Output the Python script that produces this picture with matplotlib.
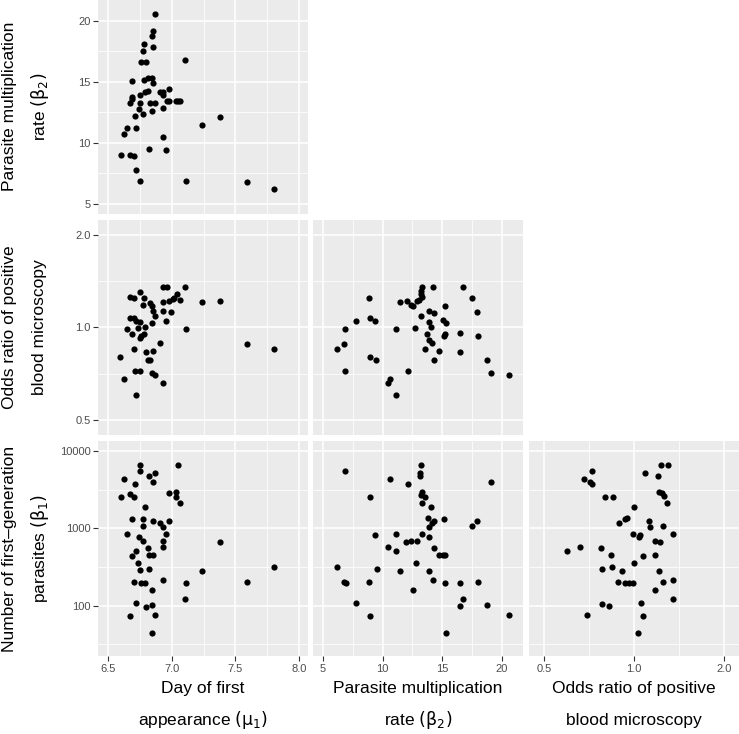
import matplotlib.pyplot as plt
from matplotlib.ticker import FixedLocator, FixedFormatter, NullFormatter

# --- data (one pair of arrays per panel) ---
# Day of first appearance (mu1) vs parasite multiplication rate (beta2)
day_rate_x = [6.87, 6.85, 6.84, 6.78, 6.85, 6.77, 6.76, 6.80, 7.10, 6.69, 6.78, 6.81, 6.84,
              6.85, 6.81, 6.79, 6.75, 6.69, 6.69, 6.67, 6.75, 6.83, 6.87, 6.91, 6.93, 6.93,
              6.98, 6.96, 6.98, 7.03, 7.05, 7.06, 6.93, 6.74, 6.84, 6.77, 6.71, 6.65, 6.62,
              6.72, 7.24, 7.38, 6.93, 6.82, 6.95, 6.60, 6.67, 6.70, 6.72, 6.75, 7.11, 7.59, 7.80]
day_rate_y = [20.6, 19.2, 18.8, 18.1, 17.9, 17.5, 16.6, 16.6, 16.8, 15.1, 15.2, 15.3, 15.3,
              14.9, 14.3, 14.2, 13.9, 13.8, 13.6, 13.3, 13.3, 13.3, 13.3, 14.2, 14.2, 13.9,
              14.4, 13.4, 13.4, 13.4, 13.4, 13.4, 12.9, 12.8, 12.6, 12.4, 12.2, 11.2, 10.7,
              11.2, 11.5, 12.1, 10.5, 9.5, 9.4, 9.0, 9.0, 8.9, 7.8, 6.9, 6.9, 6.8, 6.2]

# Day of first appearance vs odds ratio of positive blood microscopy
day_odds_x = [6.93, 6.96, 7.10, 6.67, 6.70, 6.75, 6.78, 7.04, 7.02, 7.01, 7.06, 6.98, 6.93,
              7.24, 7.38, 6.83, 6.77, 6.84, 6.85, 6.93, 6.87, 6.99, 6.95, 6.67, 6.70, 6.72,
              6.75, 6.79, 6.73, 6.65, 6.84, 7.11, 6.69, 6.75, 6.76, 6.78, 6.91, 6.70, 6.59,
              6.80, 6.85, 6.81, 6.83, 6.71, 6.75, 6.84, 6.87, 6.62, 6.93, 6.72, 7.59, 7.80]
day_odds_y = [1.35, 1.35, 1.35, 1.26, 1.25, 1.30, 1.25, 1.28, 1.25, 1.24, 1.23, 1.22, 1.21,
              1.21, 1.22, 1.20, 1.18, 1.17, 1.13, 1.13, 1.09, 1.12, 1.05, 1.07, 1.07, 1.05,
              1.04, 1.00, 0.995, 0.99, 1.03, 0.99, 0.95, 0.92, 0.94, 0.95, 0.89, 0.85, 0.80,
              0.83, 0.84, 0.78, 0.78, 0.72, 0.72, 0.71, 0.70, 0.68, 0.66, 0.60, 0.88, 0.85]

# Parasite multiplication rate vs odds ratio
rate_odds_x = [13.35, 14.27, 16.79, 13.24, 13.24, 13.35, 13.10, 12.88, 12.07, 11.48, 12.35,
               12.54, 8.83, 17.51, 13.94, 14.36, 17.91, 15.25, 13.24, 13.88, 14.08, 15.08,
               15.34, 7.79, 8.94, 9.39, 6.84, 11.09, 12.74, 13.74, 15.22, 15.20, 16.51, 18.04,
               13.94, 14.13, 6.76, 6.17, 13.60, 14.78, 16.51, 8.97, 9.47, 14.36, 18.74, 6.84,
               12.12, 19.13, 20.59, 10.59, 10.45, 11.15]
rate_odds_y = [1.35, 1.35, 1.35, 1.31, 1.28, 1.26, 1.23, 1.22, 1.22, 1.21, 1.18,
               1.17, 1.25, 1.25, 1.13, 1.11, 1.12, 1.17, 1.09, 1.04, 1.00, 1.06,
               1.03, 1.05, 1.07, 1.05, 0.99, 0.99, 0.995, 0.95, 0.95, 0.935, 0.96, 0.935,
               0.91, 0.89, 0.88, 0.85, 0.85, 0.84, 0.83, 0.80, 0.78, 0.78, 0.78, 0.72,
               0.72, 0.71, 0.70, 0.68, 0.66, 0.60]

# Day of first appearance vs number of first-generation parasites (beta1)
day_first_x = [6.75, 7.05, 6.75, 6.87, 6.82, 6.62, 6.85, 6.71, 6.98, 7.03, 7.03, 7.06, 6.67,
               6.70, 6.60, 6.79, 6.69, 6.77, 6.85, 6.98, 6.91, 6.93, 6.77, 6.95, 6.65, 6.74,
               6.77, 6.93, 7.38, 6.81, 6.93, 6.72, 6.69, 6.82, 6.85, 6.73, 6.82, 6.75, 7.24,
               7.80, 6.70, 6.76, 6.79, 6.93, 7.11, 7.59, 6.84, 7.10, 6.72, 6.80, 6.84, 6.67,
               6.87, 6.84]
day_first_y = [6590, 6590, 5570, 5140, 4750, 4390, 4010, 3740, 2890, 2980, 2570, 2100, 2780,
               2520, 2570, 1870, 1330, 1330, 1260, 1260, 1160, 1030, 1060, 845, 845, 780,
               685, 685, 659, 562, 580, 509, 443, 448, 448, 352, 298, 289, 281,
               316, 202, 195, 198, 213, 198, 202, 160, 121, 109, 97, 103, 74,
               75, 45]

# Parasite multiplication rate vs number of first-generation parasites
rate_first_x = [13.21, 13.18, 13.18, 6.84, 10.61, 12.12, 19.13, 8.97, 13.30, 13.24, 13.58,
                13.32, 14.05, 13.80, 14.30, 14.13, 13.94, 15.20, 17.91, 17.51, 9.39, 11.09,
                13.35, 13.88, 12.01, 12.35, 12.88, 10.45, 11.15, 14.36, 14.78, 15.06, 15.28,
                6.17, 9.50, 11.48, 12.77, 13.94, 6.79, 6.90, 8.83, 14.27, 15.25, 16.51, 18.04,
                12.54, 16.79, 7.79, 16.51, 18.74, 8.97, 20.59, 15.31]
rate_first_y = [6590, 5140, 4750, 5570, 4390, 3740, 4010, 2570, 2930, 2700, 2570,
                2100, 1870, 1350, 1240, 1160, 1050, 1330, 1260, 1060, 820, 845,
                845, 773, 659, 685, 680, 574, 509, 562, 448, 448, 448,
                316, 298, 283, 352, 285, 202, 198, 202, 213, 198, 195, 202,
                160, 122, 109, 98, 103, 74, 75, 45]

# Odds ratio vs number of first-generation parasites
odds_first_x = [1.225, 1.293, 0.720, 1.086, 1.197, 0.679, 0.711, 0.722, 1.212, 1.234, 1.260,
                1.283, 0.798, 0.846, 1.000, 0.933, 0.947, 0.886, 1.117, 1.125, 1.247, 0.987,
                1.045, 1.039, 1.347, 1.175, 1.222, 0.595, 0.660, 0.775, 0.833, 1.066, 1.170,
                0.997, 0.781, 0.844, 0.912, 1.209, 0.880, 0.933, 0.960, 0.987, 1.250, 1.347,
                1.172, 1.347, 1.055, 0.781, 0.825, 0.696, 1.069, 1.026]
odds_first_y = [6590, 6590, 5570, 5180, 4700, 4390, 4010, 3740, 2930, 2850, 2640,
                2100, 2570, 2520, 1870, 1330, 1350, 1180, 1250, 1030, 1060, 845,
                820, 773, 850, 685, 665, 514, 574, 562, 448, 443, 448,
                352, 298, 316, 285, 281, 202, 198, 198, 198, 202, 213,
                160, 122, 109, 104, 98, 75, 74, 45]

# axis settings for each variable
day_lim = (6.421, 8.071)
day_ticks = [6.5, 7.0, 7.5, 8.0]
day_labels = ['6.5', '7.0', '7.5', '8.0']
day_minor = [6.75, 7.25, 7.75]

rate_lim = (4.18, 21.8)
rate_ticks = [5, 10, 15, 20]
rate_labels = ['5', '10', '15', '20']
rate_minor = [7.5, 12.5, 17.5]

odds_lim = (0.446, 2.238)
odds_ticks = [0.5, 1.0, 2.0]
odds_labels = ['0.5', '1.0', '2.0']
odds_minor = [0.7071, 1.4142]

first_lim = (22.4, 13470)
first_ticks = [100, 1000, 10000]
first_labels = ['100', '1000', '10000']
first_minor = [31.62, 316.2, 3162]

axis_info = {
    'day': (day_lim, day_ticks, day_labels, day_minor, False),
    'rate': (rate_lim, rate_ticks, rate_labels, rate_minor, False),
    'odds': (odds_lim, odds_ticks, odds_labels, odds_minor, True),
    'first': (first_lim, first_ticks, first_labels, first_minor, True),
}

panels = [
    (0, 0, 'day', 'rate', day_rate_x, day_rate_y),
    (1, 0, 'day', 'odds', day_odds_x, day_odds_y),
    (1, 1, 'rate', 'odds', rate_odds_x, rate_odds_y),
    (2, 0, 'day', 'first', day_first_x, day_first_y),
    (2, 1, 'rate', 'first', rate_first_x, rate_first_y),
    (2, 2, 'odds', 'first', odds_first_x, odds_first_y),
]

W, H = 739, 734
fig = plt.figure(figsize=(W / 100, H / 100), dpi=100)
plt.rcParams['font.family'] = ['Liberation Sans', 'DejaVu Sans']

col_left = [98.3, 313.3, 529.3]
col_w = 209.7
row_top = [-1, 220, 441]
row_h = 215


def setup_axis(axis, name, show_labels):
    lim, ticks, labels, minor, is_log = axis_info[name]
    if is_log:
        axis._set_axes_scale('log')
    axis.set_major_locator(FixedLocator(ticks))
    axis.set_minor_locator(FixedLocator(minor))
    axis.set_minor_formatter(NullFormatter())
    if show_labels:
        axis.set_major_formatter(FixedFormatter(labels))
    else:
        axis.set_major_formatter(NullFormatter())
    return lim


for r, c, xname, yname, xs, ys in panels:
    ax = fig.add_axes([col_left[c] / W, 1 - (row_top[r] + row_h) / H, col_w / W, row_h / H])
    ax.set_facecolor('#EBEBEB')
    xlim = setup_axis(ax.xaxis, xname, r == 2)
    ylim = setup_axis(ax.yaxis, yname, c == 0)
    ax.set_xlim(xlim)
    ax.set_ylim(ylim)
    ax.grid(which='major', color='white', lw=1.1)
    ax.grid(which='minor', color='white', lw=0.55)
    ax.set_axisbelow(True)
    for s in ax.spines.values():
        s.set_visible(False)
    ax.tick_params(which='minor', length=0)
    ax.tick_params(which='major', length=3.5, width=0.8, color='#333333',
                   labelcolor='#4D4D4D', labelsize=8, pad=2,
                   bottom=(r == 2), left=(c == 0))
    ax.scatter(xs, ys, s=20, color='black', linewidths=0, zorder=3)

# axis titles (two lines each)
title_font = ['Liberation Sans', 'DejaVu Sans']
x_titles = [('Day of first', r'appearance $\left(\mathrm{\mu_1}\right)$'),
            ('Parasite multiplication', r'rate $\left(\mathrm{\beta_2}\right)$'),
            ('Odds ratio of positive', 'blood microscopy')]
y_titles = [('Parasite multiplication', r'rate $\left(\mathrm{\beta_2}\right)$'),
            ('Odds ratio of positive', 'blood microscopy'),
            ('Number of first\u2013generation', r'parasites $\left(\mathrm{\beta_1}\right)$')]

for i, (l1, l2) in enumerate(x_titles):
    cx = (col_left[i] + col_w / 2) / W
    fig.text(cx, 1 - 689 / H, l1, ha='center', va='center', fontsize=12.5, family=title_font)
    fig.text(cx, 1 - 720 / H, l2, ha='center', va='center', fontsize=12.5, family=title_font)

for i, (l1, l2) in enumerate(y_titles):
    cy = 1 - (row_top[i] + row_h / 2) / H
    fig.text(10 / W, cy, l1, ha='center', va='center', rotation=90, fontsize=12.5, family=title_font)
    fig.text(40 / W, cy, l2, ha='center', va='center', rotation=90, fontsize=12.5, family=title_font)

fig.savefig('out.png', dpi=100)
